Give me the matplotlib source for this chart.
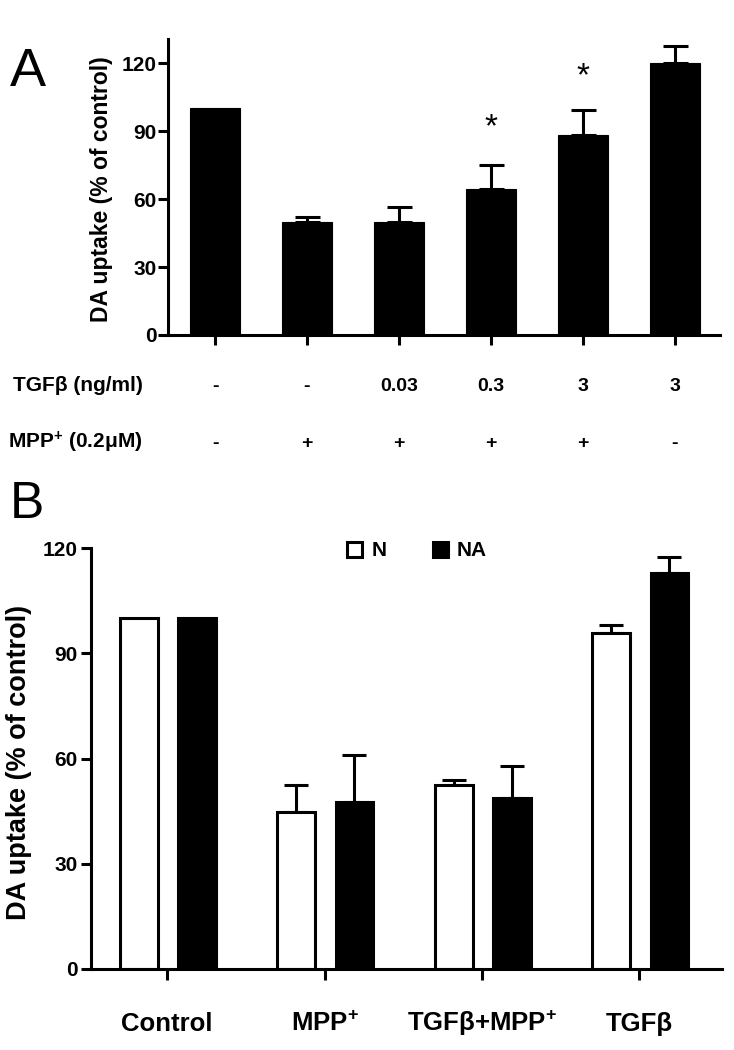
import numpy as np
import matplotlib
matplotlib.use('Agg')
import matplotlib.pyplot as plt
from matplotlib.patches import Patch
from matplotlib.transforms import blended_transform_factory

plt.rcParams['font.family'] = ['Liberation Sans', 'DejaVu Sans']
plt.rcParams['mathtext.fontset'] = 'custom'
plt.rcParams['mathtext.rm'] = 'Liberation Sans'
plt.rcParams['mathtext.bf'] = 'Liberation Sans:bold'
plt.rcParams['mathtext.it'] = 'Liberation Sans:italic'

# ---------------- data ----------------
a_values = [100, 50, 50, 64.5, 88.4, 120.2]
a_errors = [0, 2.0, 6.3, 10.3, 11.0, 7.4]
a_tgf_labels = ['-', '-', '0.03', '0.3', '3', '3']
a_mpp_labels = ['-', '+', '+', '+', '+', '-']
a_star_idx = [3, 4]
a_star_val = [93.8, 116.3]
a_yticks = [0, 30, 60, 90, 120]

b_groups = ['Control', r'MPP$^{\mathbf{+}}$', r'TGFβ+MPP$^{\mathbf{+}}$', 'TGFβ']
b_n_values = [100, 44.8, 52.4, 95.8]
b_n_errors = [0, 7.7, 1.4, 2.2]
b_na_values = [100, 47.6, 48.6, 112.9]
b_na_errors = [0, 13.4, 9.4, 4.6]
b_series = ['N', 'NA']
b_yticks = [0, 30, 60, 90, 120]

W, H = 734, 1050
fig = plt.figure(figsize=(W / 100, H / 100), dpi=100)


def rect(l, t, r, b):
    return [l / W, 1 - b / H, (r - l) / W, (b - t) / H]


def fy(px):
    return 1 - px / H


LW = 2.2

# ---------------- panel A ----------------
axA = fig.add_axes(rect(168, 39, 720, 335))
xa = np.arange(len(a_values))
axA.bar(xa, a_values, width=0.543, color='black', edgecolor='black', linewidth=0.8)
ea = [i for i, e in enumerate(a_errors) if e > 0]
axA.errorbar(xa[ea], np.array(a_values)[ea],
             yerr=[np.zeros(len(ea)), np.array(a_errors)[ea]],
             fmt='none', ecolor='black', elinewidth=LW, capsize=9, capthick=LW)
axA.set_xlim(-0.511, 5.49)
axA.set_ylim(0, 130.6)
for s in ['top', 'right']:
    axA.spines[s].set_visible(False)
for s in ['left', 'bottom']:
    axA.spines[s].set_linewidth(LW)
axA.set_yticks(a_yticks)
axA.set_yticklabels([str(v) for v in a_yticks], fontsize=15, fontweight='bold')
axA.set_xticks(xa)
axA.set_xticklabels([''] * len(xa))
axA.tick_params(axis='y', length=7, width=LW, pad=1)
axA.tick_params(axis='x', length=7.5, width=LW, direction='out')

for i, v in zip(a_star_idx, a_star_val):
    axA.annotate('*', xy=(i, v), xytext=(0, -10), textcoords='offset points',
                 ha='center', va='baseline', fontsize=24)

fig.text(102 / W, fy(189), 'DA uptake (% of control)', rotation=90,
         ha='center', va='center', fontsize=16.5, fontweight='bold')
fig.text(10 / W, fy(86), 'A', fontsize=39, va='baseline', ha='left')

trA = blended_transform_factory(axA.transData, fig.transFigure)
for i, (t, m) in enumerate(zip(a_tgf_labels, a_mpp_labels)):
    axA.text(i, fy(391), t, transform=trA, ha='center', va='baseline',
             fontsize=14, fontweight='bold')
    axA.text(i, fy(448), m, transform=trA, ha='center', va='baseline',
             fontsize=14, fontweight='bold')
fig.text(13 / W, fy(391), 'TGFβ (ng/ml)', fontsize=15, fontweight='bold',
         ha='left', va='baseline')
fig.text(8 / W, fy(448), r'MPP$^{\mathbf{+}}$ (0.2μM)', fontsize=15,
         fontweight='bold', ha='left', va='baseline')

# ---------------- panel B ----------------
axB = fig.add_axes(rect(91, 548, 722, 969))
xb = np.arange(len(b_groups))
bw = 0.24
off_n, off_na = -0.18, 0.19
axB.bar(xb + off_n, b_n_values, bw, color='white', edgecolor='black', linewidth=LW,
        label=b_series[0], zorder=2)
axB.bar(xb + off_na, b_na_values, bw, color='black', edgecolor='black', linewidth=LW,
        label=b_series[1], zorder=2)
for vals, errs, off in [(b_n_values, b_n_errors, off_n), (b_na_values, b_na_errors, off_na)]:
    idx = [i for i, e in enumerate(errs) if e > 0]
    axB.errorbar(xb[idx] + off, np.array(vals)[idx],
                 yerr=[np.zeros(len(idx)), np.array(errs)[idx]],
                 fmt='none', ecolor='black', elinewidth=LW, capsize=8.5, capthick=LW,
                 zorder=1)
axB.set_xlim(-0.483, 3.524)
axB.set_ylim(0, 120)
for s in ['top', 'right']:
    axB.spines[s].set_visible(False)
for s in ['left', 'bottom']:
    axB.spines[s].set_linewidth(LW)
axB.set_yticks(b_yticks)
axB.set_yticklabels([str(v) for v in b_yticks], fontsize=15, fontweight='bold')
axB.set_xticks(xb)
axB.set_xticklabels([''] * len(xb))
axB.tick_params(axis='y', length=7.5, width=LW, pad=2)
axB.tick_params(axis='x', length=8, width=LW, direction='out')

trB = blended_transform_factory(axB.transData, fig.transFigure)
for i, g in enumerate(b_groups):
    axB.text(i, fy(1031), g, transform=trB, ha='center', va='baseline',
             fontsize=18.5, fontweight='bold')

handles = [Patch(facecolor='white', edgecolor='black', linewidth=LW),
           Patch(facecolor='black', edgecolor='black', linewidth=LW)]
leg = axB.legend(handles, b_series, loc='center', bbox_to_anchor=(0.517, 0.993),
                 ncol=2, frameon=False, handlelength=0.72, handleheight=0.72,
                 handletextpad=0.45, columnspacing=2.2,
                 prop={'weight': 'bold', 'size': 15})

fig.text(19 / W, fy(762), 'DA uptake (% of control)', rotation=90,
         ha='center', va='center', fontsize=19.5, fontweight='bold')
fig.text(10 / W, fy(518), 'B', fontsize=37, va='baseline', ha='left')

fig.savefig('out.png', dpi=100)
